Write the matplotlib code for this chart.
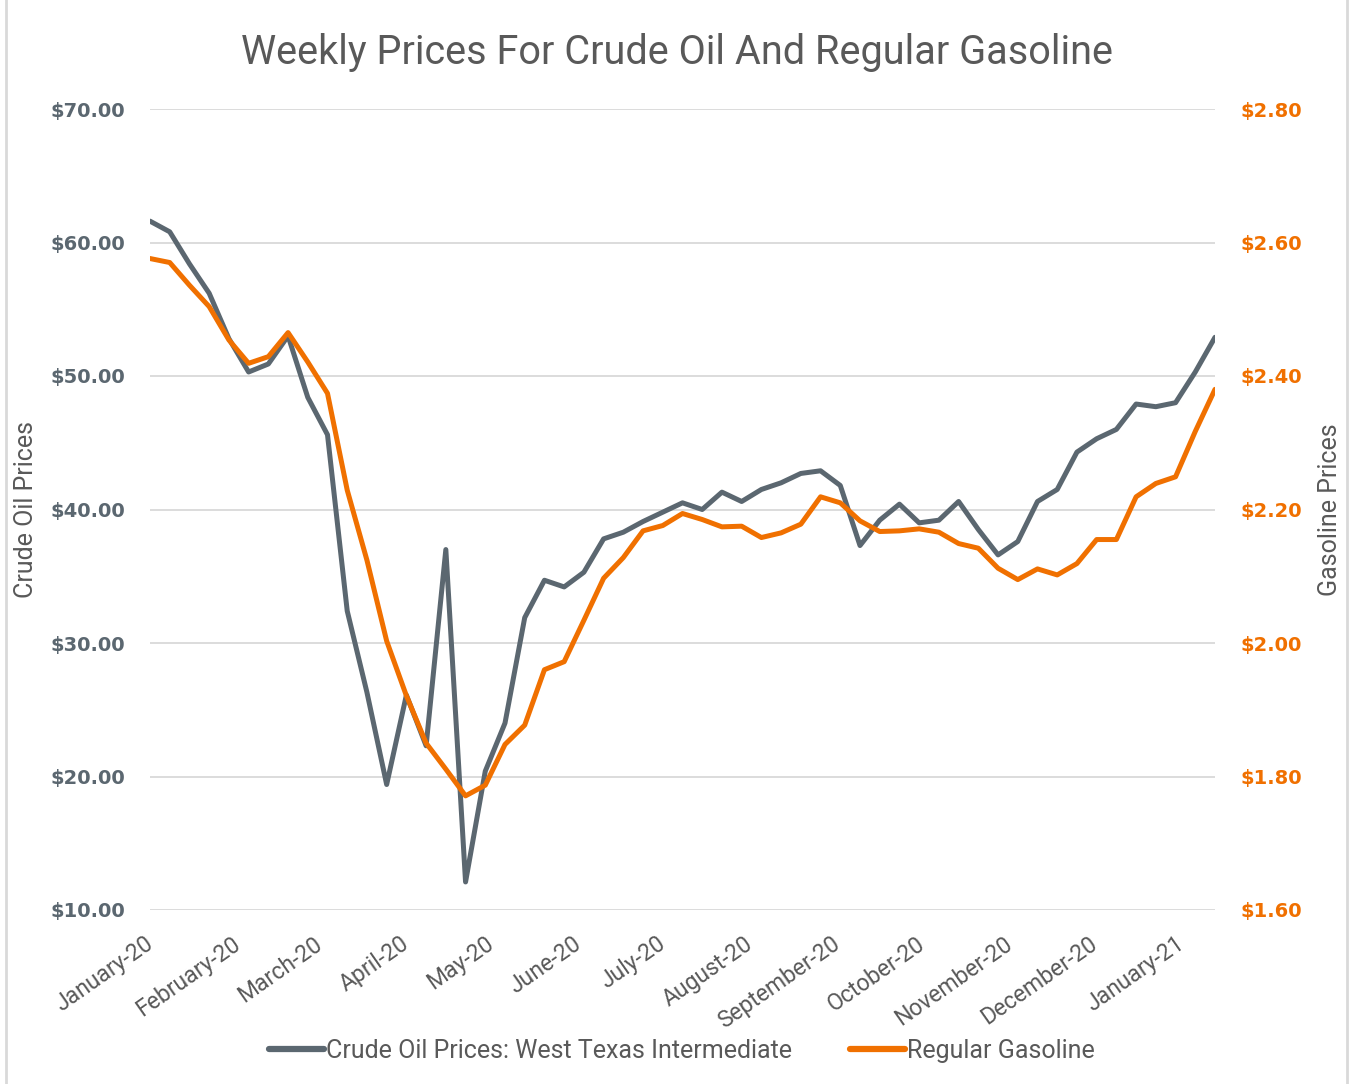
import matplotlib
matplotlib.use("Agg")
import matplotlib.pyplot as plt
import matplotlib.dates as mdates
import matplotlib.transforms as mtransforms
from matplotlib.lines import Line2D
import pandas as pd

# ---- data ----
start_date = "2020-01-01"
n_weeks = 55
oil_prices = [61.6, 60.8, 58.4, 56.2, 52.8, 50.3, 50.9, 53.0, 48.4, 45.6,
              32.4, 26.3, 19.4, 26.1, 22.3, 37.0, 12.1, 20.4, 24.0, 31.9,
              34.7, 34.2, 35.3, 37.8, 38.3, 39.1, 39.8, 40.5, 40.0, 41.3,
              40.6, 41.5, 42.0, 42.7, 42.9, 41.8, 37.3, 39.2, 40.4, 39.0,
              39.2, 40.6, 38.5, 36.6, 37.6, 40.6, 41.5, 44.3, 45.3, 46.0,
              47.9, 47.7, 48.0, 50.3, 52.9]
gas_prices = [2.576, 2.570, 2.536, 2.504, 2.454, 2.419, 2.429, 2.465, 2.421, 2.374,
              2.229, 2.124, 2.003, 1.921, 1.850, 1.811, 1.771, 1.787, 1.848, 1.877,
              1.960, 1.972, 2.034, 2.097, 2.128, 2.168, 2.176, 2.194, 2.185, 2.174,
              2.175, 2.158, 2.165, 2.178, 2.219, 2.210, 2.183, 2.167, 2.168, 2.171,
              2.166, 2.149, 2.142, 2.112, 2.095, 2.111, 2.102, 2.119, 2.155, 2.155,
              2.219, 2.239, 2.249, 2.317, 2.380]
oil_ticks = [10, 20, 30, 40, 50, 60, 70]
gas_ticks = [1.6, 1.8, 2.0, 2.2, 2.4, 2.6, 2.8]
month_ticks = pd.date_range("2020-01-01", "2021-01-01", freq="MS")

title = "Weekly Prices For Crude Oil And Regular Gasoline"
oil_label = "Crude Oil Prices: West Texas Intermediate"
gas_label = "Regular Gasoline"

dates = pd.date_range(start_date, periods=n_weeks, freq="7D")

GRAY = "#5b6770"
ORANGE = "#f07000"
TXT = "#595959"
GRID = "#d9d9d9"

plt.rcParams["font.family"] = ["Roboto", "DejaVu Sans"]

fig = plt.figure(figsize=(13.51, 10.84), dpi=100)
ax = fig.add_axes([150/1351, 1-910/1084, (1215-150)/1351, (910-109)/1084])
ax2 = ax.twinx()

ax.plot(dates, oil_prices, color=GRAY, lw=3.6, solid_joinstyle="round",
        solid_capstyle="round", zorder=3)
ax2.plot(dates, gas_prices, color=ORANGE, lw=3.6, solid_joinstyle="round",
         solid_capstyle="round", zorder=3)

ax.set_xlim(dates[0], dates[-1])
ax.set_ylim(10, 70)
ax2.set_ylim(1.6, 2.8)
ax.set_yticks(oil_ticks)
ax.set_yticklabels([f"${v:.2f}" for v in oil_ticks])
ax2.set_yticks(gas_ticks)
ax2.set_yticklabels([f"${v:.2f}" for v in gas_ticks])

ax.grid(axis="y", color=GRID, lw=1.3)
ax.set_axisbelow(True)
for a in (ax, ax2):
    for s in a.spines.values():
        s.set_visible(False)

ax.tick_params(axis="y", length=0, pad=18, labelcolor=GRAY, labelsize=14)
ax2.tick_params(axis="y", length=0, pad=18, labelcolor=ORANGE, labelsize=14)
for lbl in ax.get_yticklabels() + ax2.get_yticklabels():
    lbl.set_fontweight("bold")
    lbl.set_family(["DejaVu Sans"])

ax.set_xticks(month_ticks)
ax.xaxis.set_major_formatter(mdates.DateFormatter("%B-%y"))
ax.tick_params(axis="x", length=0, pad=16, labelcolor=TXT, labelsize=16.5)
shift = mtransforms.ScaledTranslation(-6/100, 0, fig.dpi_scale_trans)
for lbl in ax.get_xticklabels():
    lbl.set_rotation(35)
    lbl.set_ha("right")
    lbl.set_rotation_mode("anchor")
    lbl.set_transform(lbl.get_transform() + shift)

ax.set_ylabel("Crude Oil Prices", color=TXT, fontsize=18)
ax.yaxis.set_label_coords((38-150)/1065, 0.5)
ax2.set_ylabel("Gasoline Prices", color=TXT, fontsize=18)
ax2.yaxis.set_label_coords((1318-150)/1065, 0.5)

fig.text(677/1351, 1-52/1084, title, ha="center", va="center",
         color=TXT, fontsize=28.5)

handles = [Line2D([], [], color=GRAY, lw=4.5, solid_capstyle="round"),
           Line2D([], [], color=ORANGE, lw=4.5, solid_capstyle="round")]
fig.legend(handles, [oil_label, gas_label], loc="center",
           bbox_to_anchor=(682/1351, 1-1051/1084), ncol=2, frameon=False,
           fontsize=18, labelcolor=TXT, handlelength=2.2, handletextpad=0.1,
           columnspacing=2.3)

# light frame lines at the sides
fig.add_artist(Line2D([6/1351, 6/1351], [0, 1], transform=fig.transFigure,
                      color=GRID, lw=2))
fig.add_artist(Line2D([1347/1351, 1347/1351], [0, 1], transform=fig.transFigure,
                      color=GRID, lw=2))

fig.savefig("out.png", dpi=100, facecolor="white")
